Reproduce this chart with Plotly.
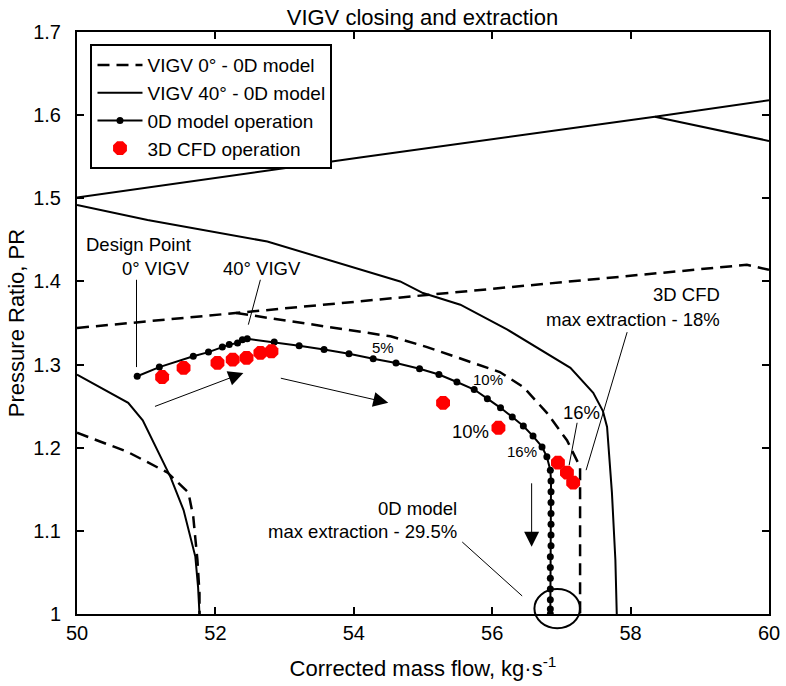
import plotly.graph_objects as go

FONT = "Liberation Sans, Arial, sans-serif"

# --- VIGV 0 deg characteristic (0D model): surge line + speed lines, None separates segments
vigv0_x = [50.0, 52.30, 54.67, 59.68, 60.0, None,
           52.30, 52.46, 54.53, 55.06, 55.68, 56.11, 56.45, 56.79, 57.08, 57.27, 57.27, 57.27, None,
           50.0, 50.73, 51.31, 51.61, 51.68, 51.74, 51.77, 51.77]
vigv0_y = [1.344, 1.362, 1.381, 1.420, 1.414, None,
           1.362, 1.360, 1.334, 1.321, 1.303, 1.291, 1.273, 1.242, 1.209, 1.177, 1.161, 1.0, None,
           1.218, 1.195, 1.170, 1.146, 1.117, 1.065, 1.025, 1.0]

# --- VIGV 40 deg characteristic (0D model)
vigv40_x = [50.0, 54.09, 58.35, 60.0, None,
            58.35, 60.0, None,
            50.0, 51.02, 52.75, 54.67, 55.0, 55.54, 56.22, 57.13, 57.46, 57.60, 57.66, 57.73, 57.78, 57.80, None,
            50.0, 50.74, 50.95, 51.35, 51.54, 51.71, 51.75, 51.77]
vigv40_y = [1.501, 1.549, 1.598, 1.618, None,
            1.598, 1.569, None,
            1.492, 1.474, 1.448, 1.400, 1.386, 1.372, 1.342, 1.296, 1.266, 1.244, 1.225, 1.146, 1.065, 1.0, None,
            1.288, 1.254, 1.233, 1.165, 1.125, 1.069, 1.032, 1.0]

# --- 0D model operating line (VIGV closing, then extraction)
op0d_x = [50.87, 51.19, 51.68, 51.90, 52.10, 52.20, 52.32, 52.39, 52.46, 52.85, 53.21, 53.57,
          53.93, 54.28, 54.61, 54.95, 55.23, 55.49, 55.74, 55.93, 56.12, 56.29, 56.45, 56.59,
          56.72, 56.79, 56.84, 56.85, 56.85, 56.85, 56.85, 56.85, 56.85, 56.85, 56.84, 56.84,
          56.84, 56.84, 56.84, 56.84, 56.84]
op0d_y = [1.286, 1.297, 1.310, 1.315, 1.321, 1.324, 1.326, 1.330, 1.331, 1.327, 1.3225, 1.318,
          1.313, 1.307, 1.302, 1.295, 1.288, 1.279, 1.270, 1.259, 1.248, 1.237, 1.226, 1.214,
          1.201, 1.189, 1.173, 1.160, 1.147, 1.134, 1.121, 1.108, 1.095, 1.082, 1.069, 1.056,
          1.043, 1.030, 1.017, 1.006, 1.0]

# --- 3D CFD operating points
cfd_x = [51.23, 51.54, 52.03, 52.25, 52.45, 52.65, 52.81, 55.29, 56.09, 56.95, 57.08, 57.17]
cfd_y = [1.285, 1.296, 1.302, 1.306, 1.308, 1.314, 1.316, 1.254, 1.224, 1.182, 1.170, 1.158]

x_ticks = [50, 52, 54, 56, 58, 60]
y_ticks = [1.0, 1.1, 1.2, 1.3, 1.4, 1.5, 1.6, 1.7]
y_tick_text = ["1", "1.1", "1.2", "1.3", "1.4", "1.5", "1.6", "1.7"]

X_RANGE = [50, 60]
Y_RANGE = [1.0, 1.7]

fig = go.Figure()
fig.add_trace(go.Scatter(x=vigv0_x, y=vigv0_y, mode="lines", name="VIGV 0\u00b0 - 0D model",
                         line=dict(color="black", width=2.5, dash="12px,7px")))
fig.add_trace(go.Scatter(x=vigv40_x, y=vigv40_y, mode="lines", name="VIGV 40\u00b0 - 0D model",
                         line=dict(color="black", width=2)))
fig.add_trace(go.Scatter(x=op0d_x, y=op0d_y, mode="lines+markers", name="0D model operation",
                         line=dict(color="black", width=2),
                         marker=dict(color="black", size=7, symbol="circle")))
fig.add_trace(go.Scatter(x=cfd_x, y=cfd_y, mode="markers", name="3D CFD operation",
                         marker=dict(color="#ff0000", size=15, symbol="octagon", line=dict(width=0))))


def to_paper(x, y):
    return ((x - X_RANGE[0]) / (X_RANGE[1] - X_RANGE[0]),
            (y - Y_RANGE[0]) / (Y_RANGE[1] - Y_RANGE[0]))


shapes = []
# thin leader lines
for (xa, ya, xb, yb) in [(50.86, 1.402, 50.86, 1.297),
                         (52.65, 1.402, 52.476, 1.348),
                         (57.227, 1.230, 57.112, 1.179),
                         (57.95, 1.339, 57.357, 1.173),
                         (55.567, 1.0866, 56.433, 1.0217)]:
    shapes.append(dict(type="line", xref="x", yref="y", x0=xa, y0=ya, x1=xb, y1=yb,
                       line=dict(color="black", width=1)))
# ellipse marking the maximum-extraction point of the 0D model
ex0, ey0 = to_paper(56.61, 0.983)
ex1, ey1 = to_paper(57.27, 1.030)
shapes.append(dict(type="circle", xref="paper", yref="paper", x0=ex0, y0=ey0, x1=ex1, y1=ey1,
                   line=dict(color="black", width=2)))

annotations = []


def label(text, x, y, size, xanchor="center"):
    annotations.append(dict(text=text, x=x, y=y, xref="x", yref="y", showarrow=False,
                            xanchor=xanchor, yanchor="middle",
                            font=dict(family=FONT, size=size, color="black")))


label("Design Point", 51.67, 1.444, 18.5, "right")
label("0\u00b0 VIGV", 51.655, 1.416, 18.5, "right")
label("40\u00b0 VIGV", 52.68, 1.416, 18.5)
label("5%", 54.42, 1.321, 15)
label("10%", 55.94, 1.2816, 15)
label("10%", 55.68, 1.219, 18.5)
label("16%", 56.43, 1.195, 15)
label("16%", 57.29, 1.242, 18.5)
label("3D CFD", 59.32, 1.384, 18.5, "right")
label("max extraction - 18%", 59.32, 1.354, 18.5, "right")
label("0D model", 55.52, 1.127, 18.5, "right")
label("max extraction - 29.5%", 55.52, 1.099, 18.5, "right")

# direction arrows (head at x/y, tail at ax/ay)
for (hx, hy, tx, ty) in [(52.404, 1.290, 51.105, 1.249),
                         (54.498, 1.254, 52.924, 1.284),
                         (56.57, 1.081, 56.57, 1.159)]:
    annotations.append(dict(text="", x=hx, y=hy, ax=tx, ay=ty, xref="x", yref="y",
                            axref="x", ayref="y", showarrow=True, arrowhead=2,
                            arrowsize=3, arrowwidth=1, arrowcolor="black"))

fig.update_layout(
    width=786, height=686,
    margin=dict(l=77, r=17, t=32, b=72),
    paper_bgcolor="white", plot_bgcolor="white",
    font=dict(family=FONT, color="black"),
    title=dict(text="VIGV closing and extraction", x=0.5375, xanchor="center",
               y=1 - 17 / 686, yanchor="middle", yref="container",
               font=dict(family=FONT, size=22, color="black")),
    showlegend=True,
    legend=dict(x=0.0195, y=0.979, xanchor="left", yanchor="top",
                bgcolor="white", bordercolor="black", borderwidth=2,
                font=dict(family=FONT, size=19, color="black"),
                itemwidth=45, tracegroupgap=0),
    shapes=shapes,
    annotations=annotations,
)
fig.update_xaxes(range=X_RANGE, tickvals=x_ticks, ticks="inside", ticklen=7, tickwidth=1.5,
                 tickcolor="black", mirror="allticks", showline=True, linewidth=2,
                 linecolor="black", showgrid=False, zeroline=False, automargin=False,
                 tickfont=dict(family=FONT, size=20, color="black"),
                 title=dict(text="Corrected mass flow, kg\u00b7s<sup>-1</sup>",
                            font=dict(family=FONT, size=22, color="black"), standoff=18))
fig.update_yaxes(range=Y_RANGE, tickvals=y_ticks, ticktext=y_tick_text, ticks="inside",
                 ticklen=7, tickwidth=1.5, tickcolor="black", mirror="allticks",
                 showline=True, linewidth=2, linecolor="black", showgrid=False,
                 zeroline=False, ticklabelstandoff=10, automargin=False,
                 tickfont=dict(family=FONT, size=20, color="black"),
                 title=dict(text="Pressure Ratio, PR",
                            font=dict(family=FONT, size=22, color="black"), standoff=2))

fig.write_html("out.html")
